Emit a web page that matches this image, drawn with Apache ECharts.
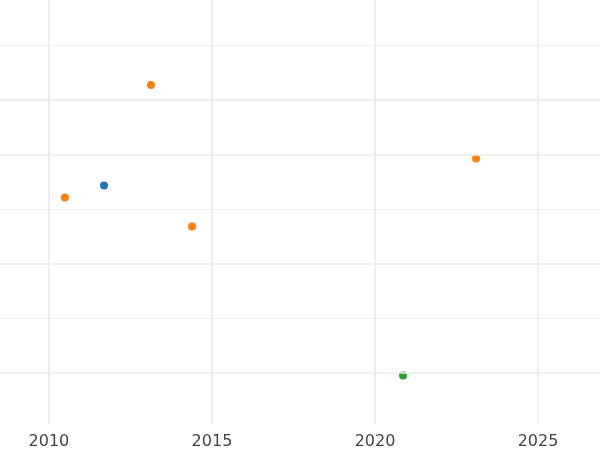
<!DOCTYPE html>
<html><head><meta charset="utf-8">
<script src="https://cdn.jsdelivr.net/npm/echarts@6/dist/echarts.min.js"></script>
<style>html,body{margin:0;background:#fff}#main{width:600px;height:450px}</style>
</head><body><div id="main"></div>
<script>
var blueX = [2011.69], blueY = [3.43];
var orangeX = [2010.49, 2013.13, 2014.39, 2023.10], orangeY = [3.21, 5.28, 2.68, 3.93];
var greenX = [2020.86], greenY = [-0.06];
var xTicks = [2010, 2015, 2020, 2025];
var majorY = [0, 2, 4, 5];
var minorY = [1, 3, 6];

function pts(xs, ys) { return xs.map(function (x, i) { return [x, ys[i]]; }); }
function ser(xs, ys, color) {
    return { type: 'scatter', data: pts(xs, ys), symbolSize: 8, itemStyle: { color: color, opacity: 1 } };
}
function lines(key, vals, width) {
    return {
        type: 'line', data: [], silent: true,
        markLine: {
            silent: true, symbol: 'none', label: { show: false }, animation: false,
            lineStyle: { color: '#ebebeb', width: width, type: 'solid' },
            data: vals.map(function (v) { var o = {}; o[key] = v; return o; })
        }
    };
}

var chart = echarts.init(document.getElementById('main'));
chart.setOption({
    animation: false,
    grid: { left: 0, right: 0, top: 0, bottom: 25, containLabel: false },
    xAxis: {
        type: 'value', min: 2008.5, max: 2026.9,
        axisLine: { show: false }, axisTick: { show: false },
        axisLabel: {
            color: '#444', fontSize: 16, fontFamily: 'DejaVu Sans', margin: 10,
            customValues: xTicks, formatter: function (v) { return String(v); }
        },
        splitLine: { show: false }
    },
    yAxis: {
        type: 'value', min: -0.95, max: 6.84,
        axisLine: { show: false }, axisTick: { show: false }, axisLabel: { show: false },
        splitLine: { show: false }
    },
    series: [
        lines('xAxis', xTicks, 1.6),
        lines('yAxis', majorY, 1.6),
        lines('yAxis', minorY, 0.8),
        ser(blueX, blueY, '#1f77b4'),
        ser(orangeX, orangeY, '#ff7f0e'),
        ser(greenX, greenY, '#2ca02c')
    ]
});
</script></body></html>
